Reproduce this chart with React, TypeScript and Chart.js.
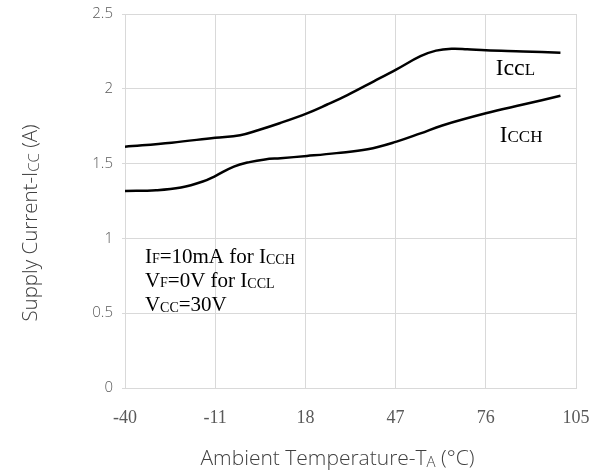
import React, { useEffect, useRef } from "react";
import { Chart, registerables } from "chart.js";

Chart.register(...registerables);

const iccLTemps = [-40, -25, -11, -3, 3, 9.7, 18.5, 25, 31.5, 40, 47.3, 55, 60, 65, 70, 76, 88, 100];
const iccLValues = [1.613, 1.64, 1.673, 1.69, 1.725, 1.77, 1.836, 1.895, 1.958, 2.05, 2.13, 2.218, 2.255, 2.268, 2.265, 2.258, 2.25, 2.241];

const iccHTemps = [-40, -30, -22, -15, -11, -5, 0, 5, 10, 18.5, 28, 38, 47.3, 55, 62, 76, 88, 100];
const iccHValues = [1.317, 1.322, 1.34, 1.38, 1.417, 1.48, 1.51, 1.528, 1.536, 1.551, 1.57, 1.596, 1.647, 1.702, 1.755, 1.836, 1.895, 1.953];

const xTickLabels = [-40, -11, 18, 47, 76, 105];
const yTickLabels = [0, 0.5, 1, 1.5, 2, 2.5];

type Seg = { t: string; size: number; dy: number };

const serif = '"Liberation Serif", "Times New Roman", serif';
const sans = '"Open Sans", "Noto Sans", sans-serif';

// annotation labels in data coordinates (temperature, current at baseline)
const curveLabels: { x: number; y: number; segs: Seg[] }[] = [
  { x: 79.2, y: 2.092, segs: [{ t: "I", size: 23, dy: 0 }, { t: "cc", size: 24, dy: 0 }, { t: "L", size: 17, dy: 0 }] },
  { x: 80.5, y: 1.646, segs: [{ t: "I", size: 23, dy: 0 }, { t: "CCH", size: 17, dy: 0 }] },
];
const conditionLines: { x: number; y: number; segs: Seg[] }[] = [
  { x: -33.6, y: 0.836, segs: [{ t: "I", size: 21, dy: 0 }, { t: "F", size: 14, dy: 0 }, { t: "=10mA for I", size: 21, dy: 0 }, { t: "CCH", size: 14, dy: 1 }] },
  { x: -33.6, y: 0.675, segs: [{ t: "V", size: 21, dy: 0 }, { t: "F", size: 14, dy: 0 }, { t: "=0V for I", size: 21, dy: 0 }, { t: "CCL", size: 14, dy: 1 }] },
  { x: -33.6, y: 0.515, segs: [{ t: "V", size: 21, dy: 0 }, { t: "CC", size: 14, dy: 1 }, { t: "=30V", size: 21, dy: 0 }] },
];

function drawSegs(ctx: CanvasRenderingContext2D, segs: Seg[], x: number, y: number, family: string, weight: string, align: "left" | "center") {
  let total = 0;
  for (const s of segs) {
    ctx.font = `${weight} ${s.size}px ${family}`;
    total += ctx.measureText(s.t).width;
  }
  let cx = align === "center" ? x - total / 2 : x;
  ctx.textAlign = "left";
  ctx.textBaseline = "alphabetic";
  for (const s of segs) {
    ctx.font = `${weight} ${s.size}px ${family}`;
    ctx.fillText(s.t, cx, y + s.dy);
    cx += ctx.measureText(s.t).width;
  }
}

const textPlugin = {
  id: "textPlugin",
  afterDraw(chart: any) {
    const ctx: CanvasRenderingContext2D = chart.ctx;
    const xs = chart.scales.x;
    const ys = chart.scales.y;
    ctx.save();
    ctx.fillStyle = "#000000";
    for (const l of curveLabels) {
      drawSegs(ctx, l.segs, xs.getPixelForValue(l.x), ys.getPixelForValue(l.y), serif, "normal", "left");
    }
    for (const l of conditionLines) {
      drawSegs(ctx, l.segs, xs.getPixelForValue(l.x), ys.getPixelForValue(l.y), serif, "normal", "left");
    }
    // axis titles
    ctx.fillStyle = "#404040";
    const area = chart.chartArea;
    drawSegs(
      ctx,
      [
        { t: "Ambient Temperature-T", size: 21, dy: 0 },
        { t: "A", size: 15, dy: 2 },
        { t: " (°C)", size: 21, dy: 0 },
      ],
      (area.left + area.right) / 2 - 13,
      chart.height - 10,
      sans,
      "300",
      "center"
    );
    ctx.translate(30, (area.top + area.bottom) / 2 + 22);
    ctx.rotate(-Math.PI / 2);
    drawSegs(
      ctx,
      [
        { t: "Supply Current-I", size: 20.5, dy: 7 },
        { t: "CC", size: 15, dy: 9 },
        { t: " (A)", size: 20.5, dy: 7 },
      ],
      0,
      0,
      sans,
      "300",
      "center"
    );
    ctx.restore();
  },
};

function clearPadding(s: any) {
  s.paddingTop = 0;
  s.paddingBottom = 0;
  s.paddingLeft = 0;
  s.paddingRight = 0;
}

export default function App() {
  const ref = useRef<HTMLCanvasElement | null>(null);
  useEffect(() => {
    if (!ref.current) return;
    const chart = new Chart(ref.current, {
      type: "line",
      data: {
        datasets: [
          {
            label: "IccL",
            data: iccLTemps.map((t, i) => ({ x: t, y: iccLValues[i] })),
            borderColor: "#000000",
            borderWidth: 2.5,
            pointRadius: 0,
            tension: 0.4,
            fill: false,
          },
          {
            label: "IccH",
            data: iccHTemps.map((t, i) => ({ x: t, y: iccHValues[i] })),
            borderColor: "#000000",
            borderWidth: 2.5,
            pointRadius: 0,
            tension: 0.4,
            fill: false,
          },
        ],
      },
      options: {
        responsive: false,
        animation: false,
        layout: { padding: { left: 0, top: 14, right: 28, bottom: 0 } },
        plugins: { legend: { display: false }, tooltip: { enabled: false }, title: { display: false } },
        scales: {
          x: {
            type: "linear",
            min: xTickLabels[0],
            max: xTickLabels[xTickLabels.length - 1],
            afterBuildTicks: (s: any) => {
              s.ticks = xTickLabels.map((v) => ({ value: v }));
            },
            afterFit: (s: any) => {
              s.height = 87;
              clearPadding(s);
            },
            grid: { color: "#d9d9d9", drawTicks: false, lineWidth: 1 },
            border: { color: "#d9d9d9" },
            ticks: {
              padding: 19,
              color: "#595959",
              font: { family: serif, size: 18 },
              maxRotation: 0,
              autoSkip: false,
              callback: (v: any) => String(v),
            },
          },
          y: {
            type: "linear",
            min: yTickLabels[0],
            max: yTickLabels[yTickLabels.length - 1],
            afterBuildTicks: (s: any) => {
              s.ticks = yTickLabels.map((v) => ({ value: v }));
            },
            afterFit: (s: any) => {
              s.width = 125;
              clearPadding(s);
            },
            grid: { color: "#d9d9d9", drawTicks: true, tickLength: 3, lineWidth: 1 },
            border: { color: "#d9d9d9" },
            ticks: {
              padding: 9,
              color: "#595959",
              font: { family: sans, size: 15, weight: "300" as any },
              autoSkip: false,
              callback: (v: any) => String(v),
            },
          },
        },
      },
      plugins: [textPlugin],
    });
    return () => chart.destroy();
  }, []);
  return (
    <div style={{ position: "fixed", left: 0, top: 0, width: 604, height: 475, background: "#ffffff" }}>
      <canvas ref={ref} width={604} height={475} style={{ width: 604, height: 475, display: "block" }} />
    </div>
  );
}
